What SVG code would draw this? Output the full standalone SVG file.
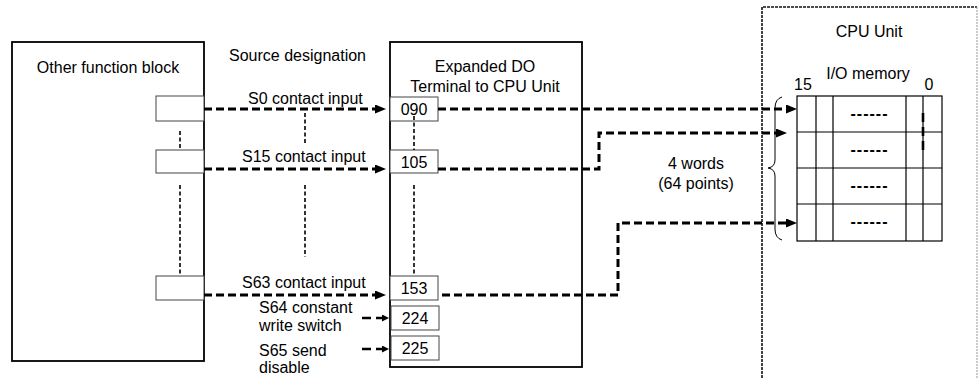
<svg xmlns="http://www.w3.org/2000/svg" width="978" height="378" viewBox="0 0 978 378">
<style>
text{font-family:"Liberation Sans",Arial,sans-serif;font-size:16px;fill:#000}
.mid{text-anchor:middle}
.blk{fill:#fff;stroke:#000;stroke-width:1.8}
.sb{fill:#fff;stroke:#444;stroke-width:1}
.dot{fill:none;stroke:#000;stroke-width:1.6;stroke-dasharray:4,2.5}
.dash{fill:none;stroke:#000;stroke-width:3;stroke-dasharray:8,4}
.sdash{fill:none;stroke:#000;stroke-width:2.6;stroke-dasharray:9,5}
.grid{fill:none;stroke:#000;stroke-width:1.2}
.hy{letter-spacing:1px;font-weight:bold}
</style>
<defs>
<marker id="ah" markerUnits="userSpaceOnUse" markerWidth="12" markerHeight="10" refX="0" refY="4.5" orient="auto">
<path d="M0,0 L11,4.5 L0,9 z" fill="#000"/>
</marker>
<marker id="ahs" markerUnits="userSpaceOnUse" markerWidth="8" markerHeight="8" refX="0" refY="3.5" orient="auto">
<path d="M0,0 L7,3.5 L0,7 z" fill="#000"/>
</marker>
</defs>

<g id="other-function-block">
<rect class="blk" x="12" y="42" width="192" height="319"/>
<text class="mid" x="108" y="73">Other function block</text>
<rect class="sb" x="156" y="96" width="48" height="25"/>
<rect class="sb" x="156" y="150" width="48" height="23"/>
<rect class="sb" x="156" y="276" width="48" height="24"/>
<path class="dot" d="M180,131 V149 M180,185 V275"/>
</g>

<g id="source-designation">
<text x="229" y="61">Source designation</text>
<text x="248" y="104">S0 contact input</text>
<text x="242" y="162">S15 contact input</text>
<text x="242" y="288">S63 contact input</text>
<text x="259" y="313">S64 constant</text>
<text x="259" y="331">write switch</text>
<text x="259" y="356">S65 send</text>
<text x="259" y="373">disable</text>
<path class="dot" d="M305,113 V143 M305,185 V257"/>
</g>

<g id="expanded-do">
<rect class="blk" x="390" y="42" width="192" height="325"/>
<text class="mid" x="485" y="72">Expanded DO</text>
<text class="mid" x="485" y="92">Terminal to CPU Unit</text>
<rect class="sb" x="390" y="97" width="48" height="24"/>
<rect class="sb" x="390" y="150" width="48" height="23"/>
<rect class="sb" x="390" y="276" width="48" height="24"/>
<rect class="sb" x="391" y="306" width="48" height="24"/>
<rect class="sb" x="391" y="336" width="48" height="24"/>
<text class="mid" x="414" y="115">090</text>
<text class="mid" x="414" y="168">105</text>
<text class="mid" x="414" y="294">153</text>
<text class="mid" x="415" y="324">224</text>
<text class="mid" x="415" y="354">225</text>
<path class="dot" d="M414,116 V150 M414,185 V274"/>
</g>

<g id="cpu-unit">
<path d="M762,378 V7 H977" fill="none" stroke="#111" stroke-width="1.6" stroke-dasharray="3,1"/>
<path d="M977,7 V378" fill="none" stroke="#999" stroke-width="1" stroke-dasharray="2,1"/>
<text class="mid" x="869" y="37">CPU Unit</text>
<text class="mid" x="868" y="79">I/O memory</text>
<text class="mid" x="803" y="90">15</text>
<text class="mid" x="929" y="90">0</text>
<rect class="grid" x="797" y="96" width="145" height="145"/>
<path class="grid" d="M797,132 H942 M797,168 H942 M797,204 H942 M816,96 V241 M833,96 V241 M906,96 V241 M923,96 V241"/>
<text class="mid hy" x="869.5" y="118.5">------</text>
<text class="mid hy" x="869.5" y="154.5">------</text>
<text class="mid hy" x="869.5" y="190.5">------</text>
<text class="mid hy" x="869.5" y="226.5">------</text>
<path class="sdash" d="M923,113 V150"/>
<path d="M782,97 Q775,99 775,108 L775,160 Q775,167 768,168 Q775,169 775,176 L775,229 Q775,238 782,240" fill="none" stroke="#000" stroke-width="1"/>
</g>

<g id="word-count">
<text class="mid" x="696" y="169">4 words</text>
<text class="mid" x="696" y="189">(64 points)</text>
</g>

<g id="connectors">
<path class="dash" d="M204,109 H375" marker-end="url(#ah)"/>
<path class="dash" d="M204,169 H375" marker-end="url(#ah)"/>
<path class="dash" d="M204,295 H375" marker-end="url(#ah)"/>
<path d="M362,318 H382" fill="none" stroke="#000" stroke-width="2.6" stroke-dasharray="9,5" marker-end="url(#ahs)"/>
<path d="M362,349 H382" fill="none" stroke="#000" stroke-width="2.6" stroke-dasharray="9,5" marker-end="url(#ahs)"/>
<path class="dash" d="M438,109 H786" marker-end="url(#ah)"/>
<path class="dash" d="M438,169 H599 V133 H776" marker-end="url(#ah)"/>
<path class="dash" d="M442,295 H618 V223 H786" marker-end="url(#ah)"/>
</g>
</svg>
